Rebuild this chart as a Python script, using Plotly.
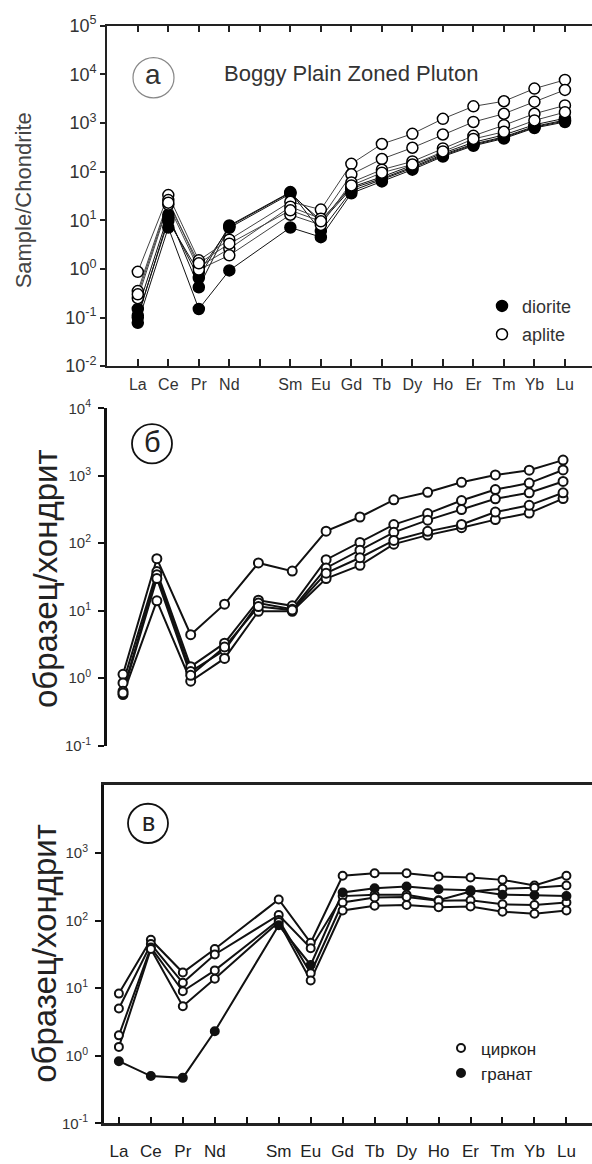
import plotly.graph_objects as go

# ---------------- data ----------------
AXIS_LABELS = ["La", "Ce", "Pr", "Nd", "", "Sm", "Eu", "Gd", "Tb", "Dy", "Ho", "Er", "Tm", "Yb", "Lu"]
REE = [e for e in AXIS_LABELS if e]

# panel a: Boggy Plain Zoned Pluton (sample/chondrite)
DIORITE_1 = [0.15, 13, 0.42, 7.5, 37, 9.0, 45, 72, 125, 225, 370, 520, 850, 1150]
DIORITE_2 = [0.078, 7.1, 0.15, 0.93, 7.1, 4.5, 36, 63, 110, 205, 340, 480, 790, 1050]
DIORITE_3 = [0.11, 9.7, 0.85, 7.0, 35, 10, 48, 78, 135, 240, 400, 570, 920, 1250]
DIORITE_4 = [0.10, 11, 0.65, 7.8, 38, 6.0, 40, 68, 118, 215, 355, 500, 820, 1100]
APLITE_1 = [0.87, 33, 1.5, 4.0, 24, 16.6, 145, 370, 600, 1220, 2200, 2800, 5100, 7700]
APLITE_2 = [0.35, 26, 1.1, 2.6, 19, 10.8, 88, 182, 310, 580, 1050, 1550, 2750, 4800]
APLITE_3 = [0.25, 21, 0.97, 1.9, 13, 8.0, 60, 110, 162, 300, 545, 900, 1550, 2300]
APLITE_4 = [0.30, 23, 1.3, 3.3, 16, 9.5, 52, 95, 140, 260, 470, 660, 1130, 1670]

# panel б
B_1 = [1.14, 59, 4.4, 12.5, 51, 38.6, 151, 245, 440, 570, 800, 1030, 1210, 1710]
B_2 = [0.85, 38, 1.48, 3.3, 14.3, 11.8, 57, 103, 189, 275, 430, 625, 780, 1220]
B_3 = [0.64, 34, 1.25, 2.6, 13.0, 10.5, 43, 79, 145, 220, 316, 456, 560, 825]
B_4 = [0.57, 14, 0.90, 1.96, 9.8, 9.8, 30, 47, 97, 132, 170, 224, 280, 460]
B_5 = [0.60, 30, 1.10, 2.9, 11.5, 10.2, 36, 61, 110, 150, 190, 290, 365, 560]

# panel в
ZIRCON_1 = [8.3, 52, 17, 38, 205, 47, 460, 500, 500, 450, 435, 400, 330, 460]
ZIRCON_2 = [5.0, 45, 12, 31.5, 121, 39, 230, 240, 240, 200, 270, 296, 305, 330]
ZIRCON_3 = [2.0, 40, 9.0, 18.3, 102, 16.6, 185, 219, 224, 197, 200, 174, 170, 185]
ZIRCON_4 = [1.35, 38, 5.4, 13.8, 95, 13, 141, 166, 170, 158, 161, 135, 126, 141]
GARNET_1 = [0.83, 0.50, 0.47, 2.3, 85, 22, 260, 300, 320, 290, 280, 241, 237, 230]

# ---------------- helpers ----------------
W, H = 592, 1164
FONT = "Liberation Sans, Arial, sans-serif"


def px(x):
    return x / W


def py(y):
    return 1 - y / H


POS_AXIS = [AXIS_LABELS.index(e) for e in REE]   # positions with Pm gap
POS_INDEX = list(range(len(REE)))                 # evenly spaced (panel б)

fig = go.Figure()

# ---------------- panel a ----------------
for s in [DIORITE_1, DIORITE_2, DIORITE_3, DIORITE_4]:
    fig.add_trace(go.Scatter(x=POS_AXIS, y=s, mode="lines", xaxis="x", yaxis="y",
                             line=dict(color="#111", width=1), showlegend=False, hoverinfo="skip"))
for s in [APLITE_1, APLITE_2, APLITE_3, APLITE_4]:
    fig.add_trace(go.Scatter(x=POS_AXIS, y=s, mode="lines", xaxis="x", yaxis="y",
                             line=dict(color="#444", width=1), showlegend=False, hoverinfo="skip"))
for i, s in enumerate([DIORITE_1, DIORITE_2, DIORITE_3, DIORITE_4]):
    fig.add_trace(go.Scatter(x=POS_AXIS, y=s, mode="markers", xaxis="x", yaxis="y",
                             name="diorite", legend="legend", legendgroup="dio", showlegend=(i == 0),
                             marker=dict(symbol="circle", size=11, color="#000",
                                         line=dict(color="#000", width=1.5))))
for i, s in enumerate([APLITE_1, APLITE_2, APLITE_3, APLITE_4]):
    fig.add_trace(go.Scatter(x=POS_AXIS, y=s, mode="markers", xaxis="x", yaxis="y",
                             name="aplite", legend="legend", legendgroup="apl", showlegend=(i == 0),
                             marker=dict(symbol="circle", size=11, color="#fff",
                                         line=dict(color="#000", width=1.5))))

# ---------------- panel б ----------------
for s in [B_1, B_2, B_3, B_4, B_5]:
    fig.add_trace(go.Scatter(x=POS_INDEX, y=s, mode="lines", xaxis="x4", yaxis="y2",
                             line=dict(color="#111", width=2), showlegend=False, hoverinfo="skip"))
for s in [B_1, B_2, B_3, B_4, B_5]:
    fig.add_trace(go.Scatter(x=POS_INDEX, y=s, mode="markers", xaxis="x4", yaxis="y2",
                             showlegend=False,
                             marker=dict(symbol="circle", size=9, color="#fff",
                                         line=dict(color="#111", width=2))))

# ---------------- panel в ----------------
for s in [ZIRCON_1, ZIRCON_2, ZIRCON_3, ZIRCON_4, GARNET_1]:
    fig.add_trace(go.Scatter(x=POS_AXIS, y=s, mode="lines", xaxis="x3", yaxis="y3",
                             line=dict(color="#111", width=2), showlegend=False, hoverinfo="skip"))
for i, s in enumerate([ZIRCON_1, ZIRCON_2, ZIRCON_3, ZIRCON_4]):
    fig.add_trace(go.Scatter(x=POS_AXIS, y=s, mode="markers", xaxis="x3", yaxis="y3",
                             name="циркон", legend="legend2", legendgroup="zr", showlegend=(i == 0),
                             marker=dict(symbol="circle", size=8, color="#fff",
                                         line=dict(color="#111", width=2))))
fig.add_trace(go.Scatter(x=POS_AXIS, y=GARNET_1, mode="markers", xaxis="x3", yaxis="y3",
                         name="гранат", legend="legend2", legendgroup="grt",
                         marker=dict(symbol="circle", size=8, color="#111",
                                     line=dict(color="#111", width=2))))

# ---------------- axes ----------------
def log_ticks(lo, hi):
    vals = [10.0 ** k for k in range(lo, hi + 1)]
    txt = ["10<sup>%d</sup>" % k for k in range(lo, hi + 1)]
    return vals, txt


a_vals, a_txt = log_ticks(-2, 5)
b_vals, b_txt = log_ticks(-1, 4)
c_vals, c_txt = log_ticks(-1, 3)

common_x = dict(tickvals=list(range(len(AXIS_LABELS))), ticktext=AXIS_LABELS,
                showgrid=False, zeroline=False, ticks="inside", showline=True)

B_DOMAIN = [px(105.5), 1]

fig.update_layout(
    xaxis=dict(common_x, domain=[px(106.8), 1], anchor="y", range=[-1.016, 14.887],
               ticklen=7, tickwidth=1.5, tickcolor="#222", linecolor="#222", linewidth=1.5,
               mirror="ticks", tickfont=dict(family=FONT, size=16, color="#333"),
               ticklabelstandoff=3),
    yaxis=dict(type="log", range=[-2, 5], domain=[py(361), py(14)], anchor="x",
               tickvals=a_vals, ticktext=a_txt, ticks="outside", ticklen=5, tickwidth=1.5,
               tickcolor="#222", showline=True, linecolor="#222", linewidth=1.5,
               showgrid=False, zeroline=False, tickfont=dict(family=FONT, size=18, color="#333")),
    yaxis4=dict(type="log", range=[-2, 5], overlaying="y", side="right", anchor="x",
                tickvals=a_vals, ticks="inside", ticklen=6, tickwidth=1.5, tickcolor="#222",
                showticklabels=False, showline=False, showgrid=False, zeroline=False),

    xaxis2=dict(common_x, domain=B_DOMAIN, anchor="y2", range=[-0.997, 14.90],
                ticklen=6, tickwidth=2, tickcolor="#111", linecolor="#222", linewidth=2.5,
                mirror=True, tickfont=dict(family=FONT, size=17, color="#222"),
                ticklabelstandoff=6),
    xaxis4=dict(domain=B_DOMAIN, anchor="y2", range=[-0.517, 13.855],
                showline=False, showgrid=False, zeroline=False, ticks="",
                showticklabels=False),
    yaxis2=dict(type="log", range=[-1, 4], domain=[py(747.7), py(404)], anchor="x2",
                tickvals=b_vals, ticktext=b_txt, ticks="outside", ticklen=6, tickwidth=2,
                tickcolor="#111", showline=True, linecolor="#111", linewidth=2.5,
                showgrid=False, zeroline=False, tickfont=dict(family=FONT, size=15, color="#333"),
                ticklabelstandoff=4),

    xaxis3=dict(common_x, domain=[px(103.8), 1], anchor="y3", range=[-0.472, 14.80],
                ticklen=7, tickwidth=2, tickcolor="#111", linecolor="#222", linewidth=2.5,
                mirror=True, tickfont=dict(family=FONT, size=17, color="#222"),
                ticklabelstandoff=11),
    yaxis3=dict(type="log", range=[-1, 4], domain=[py(1132.7), py(788.3)], anchor="x3",
                tickvals=c_vals, ticktext=c_txt, ticks="outside", ticklen=6, tickwidth=2,
                tickcolor="#111", showline=True, linecolor="#111", linewidth=2.5,
                showgrid=False, zeroline=False, tickfont=dict(family=FONT, size=15, color="#333"),
                ticklabelstandoff=4),
)

# ---------------- legends ----------------
fig.update_layout(
    legend=dict(x=px(482), y=py(281), xanchor="left", yanchor="top", traceorder="grouped",
                tracegroupgap=2, itemwidth=30, bgcolor="rgba(0,0,0,0)",
                font=dict(family=FONT, size=18, color="#333")),
    legend2=dict(x=px(441), y=py(1038), xanchor="left", yanchor="top", traceorder="grouped",
                 tracegroupgap=0, itemwidth=30, bgcolor="rgba(0,0,0,0)",
                 font=dict(family=FONT, size=17, color="#222")),
)

# ---------------- annotations & shapes ----------------
def note(x, y, text, size, color, angle=0, xanchor="center"):
    return dict(x=px(x), y=py(y), text=text, textangle=angle, showarrow=False,
                xanchor=xanchor, yanchor="middle", xref="paper", yref="paper",
                font=dict(family=FONT, size=size, color=color))


annotations = [
    note(23, 192, "Sample/Chondrite", 22, "#444", angle=-90),
    note(222, 63, "Boggy Plain Zoned Pluton", 22, "#333", xanchor="left"),
    note(153.5, 64, "a", 28, "#333"),
    note(45, 578, "образец/хондрит", 33, "#222", angle=-90),
    note(152, 438, "б", 29, "#222"),
    note(45, 960, "образец/хондрит", 33, "#222", angle=-90),
    note(148, 826, "в", 25, "#222"),
]


def circle(cx, cy, r, color, width):
    return dict(type="circle", xref="paper", yref="paper",
                x0=px(cx - r), x1=px(cx + r), y0=py(cy + r), y1=py(cy - r),
                line=dict(color=color, width=width))


shapes = [
    circle(153.5, 67, 20.5, "#888", 1.2),
    circle(152, 440, 20, "#111", 1.8),
    circle(148, 827, 20, "#111", 1.8),
]

fig.update_layout(
    width=W, height=H, margin=dict(l=0, r=0, t=0, b=0),
    paper_bgcolor="#fff", plot_bgcolor="#fff",
    annotations=annotations, shapes=shapes,
    font=dict(family=FONT),
)

fig.write_html("out.html")
